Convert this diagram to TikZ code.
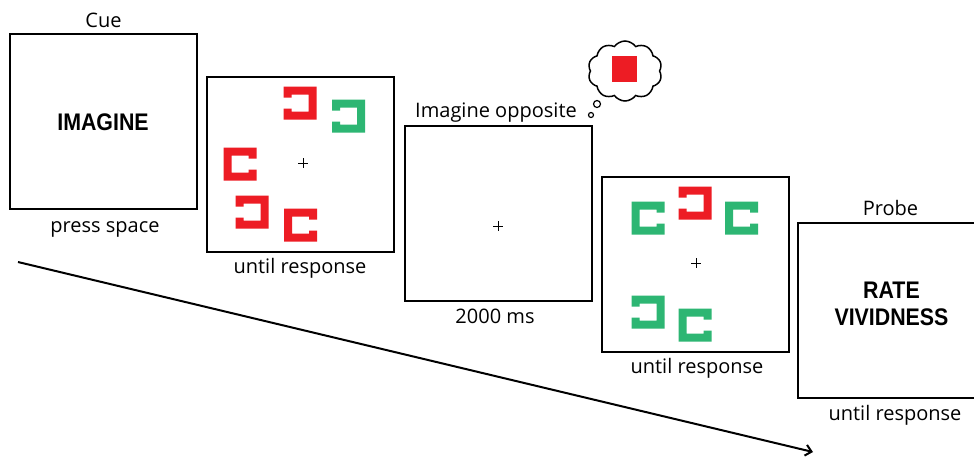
\documentclass[tikz,border=0pt]{standalone}
\usepackage{fontspec}
\setmainfont{Open Sans}
\newfontfamily\condfont[FakeStretch=0.89]{Liberation Sans}
\usetikzlibrary{shapes.symbols,arrows.meta}
\definecolor{cred}{HTML}{ED1C24}
\definecolor{cgreen}{HTML}{2DB673}
\tikzset{
  frame/.style={draw=black,line width=2pt,minimum width=187pt,minimum height=175pt,inner sep=0pt},
  lbl/.style={font=\fontsize{20}{24}\selectfont,anchor=base,inner sep=0pt},
  big/.style={font=\condfont\bfseries\fontsize{24}{27}\selectfont,align=center,inner sep=0pt},
  lc/.pic={\fill[pic actions] (16.5,-16.5) -- (-16.5,-16.5) -- (-16.5,16.5) -- (16.5,16.5) -- (16.5,5.5) -- (8.5,5.5) -- (8.5,8.5) -- (-8.5,8.5) -- (-8.5,-8.5) -- (8.5,-8.5) -- (8.5,-5.5) -- (16.5,-5.5) -- cycle;},
  fix/.pic={\draw[line width=1pt] (-5,0) -- (5,0) (0,-5) -- (0,5);}
}
\begin{document}
\begin{tikzpicture}[x=1pt,y=-1pt]
\clip (0,0) rectangle (974,459);
\fill[white] (0,0) rectangle (974,459);
% boxes
\node[frame] (b1) at (103.5,121.5) {};
\node[frame] (b2) at (300.5,164) {};
\node[frame] (b3) at (498,213.5) {};
\node[frame] (b4) at (695.5,264) {};
\node[frame] (b5) at (891.5,310) {};
% labels
\node[lbl] (cue) at (103.5,27) {Cue};
\node[lbl] (press) at (105,232) {press space};
\node[lbl] (u2) at (300,273) {until response};
\node[lbl] (opp) at (496,117) {Imagine opposite};
\node[lbl] (ms) at (495,323) {2000 ms};
\node[lbl] (u4) at (697,373) {until response};
\node[lbl] (probe) at (890.5,215) {Probe};
\node[lbl] (u5) at (895,420) {until response};
\node[big] (imagine) at (103,122) {IMAGINE};
\node[big] (rate) at (891.5,304) {RATE\\VIVIDNESS};
% fixation crosses
\pic at (303,163) {fix};
\pic at (498,226) {fix};
\pic at (696,263) {fix};
% box 2 stimuli
\pic[fill=cred,rotate=180] at (300,103) {lc};
\pic[fill=cgreen,rotate=180] at (348.5,116) {lc};
\pic[fill=cred] at (240,164) {lc};
\pic[fill=cred,rotate=180] at (252,212) {lc};
\pic[fill=cred] at (300.5,225) {lc};
% box 4 stimuli
\pic[fill=cgreen] at (648,218) {lc};
\pic[fill=cred,rotate=180] at (695,203) {lc};
\pic[fill=cgreen] at (741.5,218) {lc};
\pic[fill=cgreen,rotate=180] at (648,312) {lc};
\pic[fill=cgreen] at (695,325) {lc};
% thought bubble
\node[cloud,cloud puffs=10,cloud puff arc=110,draw,line width=1.5pt,minimum width=74pt,minimum height=60pt,aspect=1.2,inner sep=0pt] (cloud) at (625,71) {};
\node[fill=cred,minimum width=25pt,minimum height=26pt,inner sep=0pt] (sq) at (624.5,69) {};
\node[circle,draw,line width=1.2pt,minimum size=7pt,inner sep=0pt] (bub1) at (597,104) {};
\node[circle,draw,line width=1.2pt,minimum size=5pt,inner sep=0pt] (bub2) at (591,115) {};
% time arrow
\coordinate (t0) at (18,262);
\coordinate (t1) at (813,452);
\draw[line width=2pt,-{Straight Barb[length=6pt,width=11pt]}] (t0) -- (t1);
\end{tikzpicture}
\end{document}
